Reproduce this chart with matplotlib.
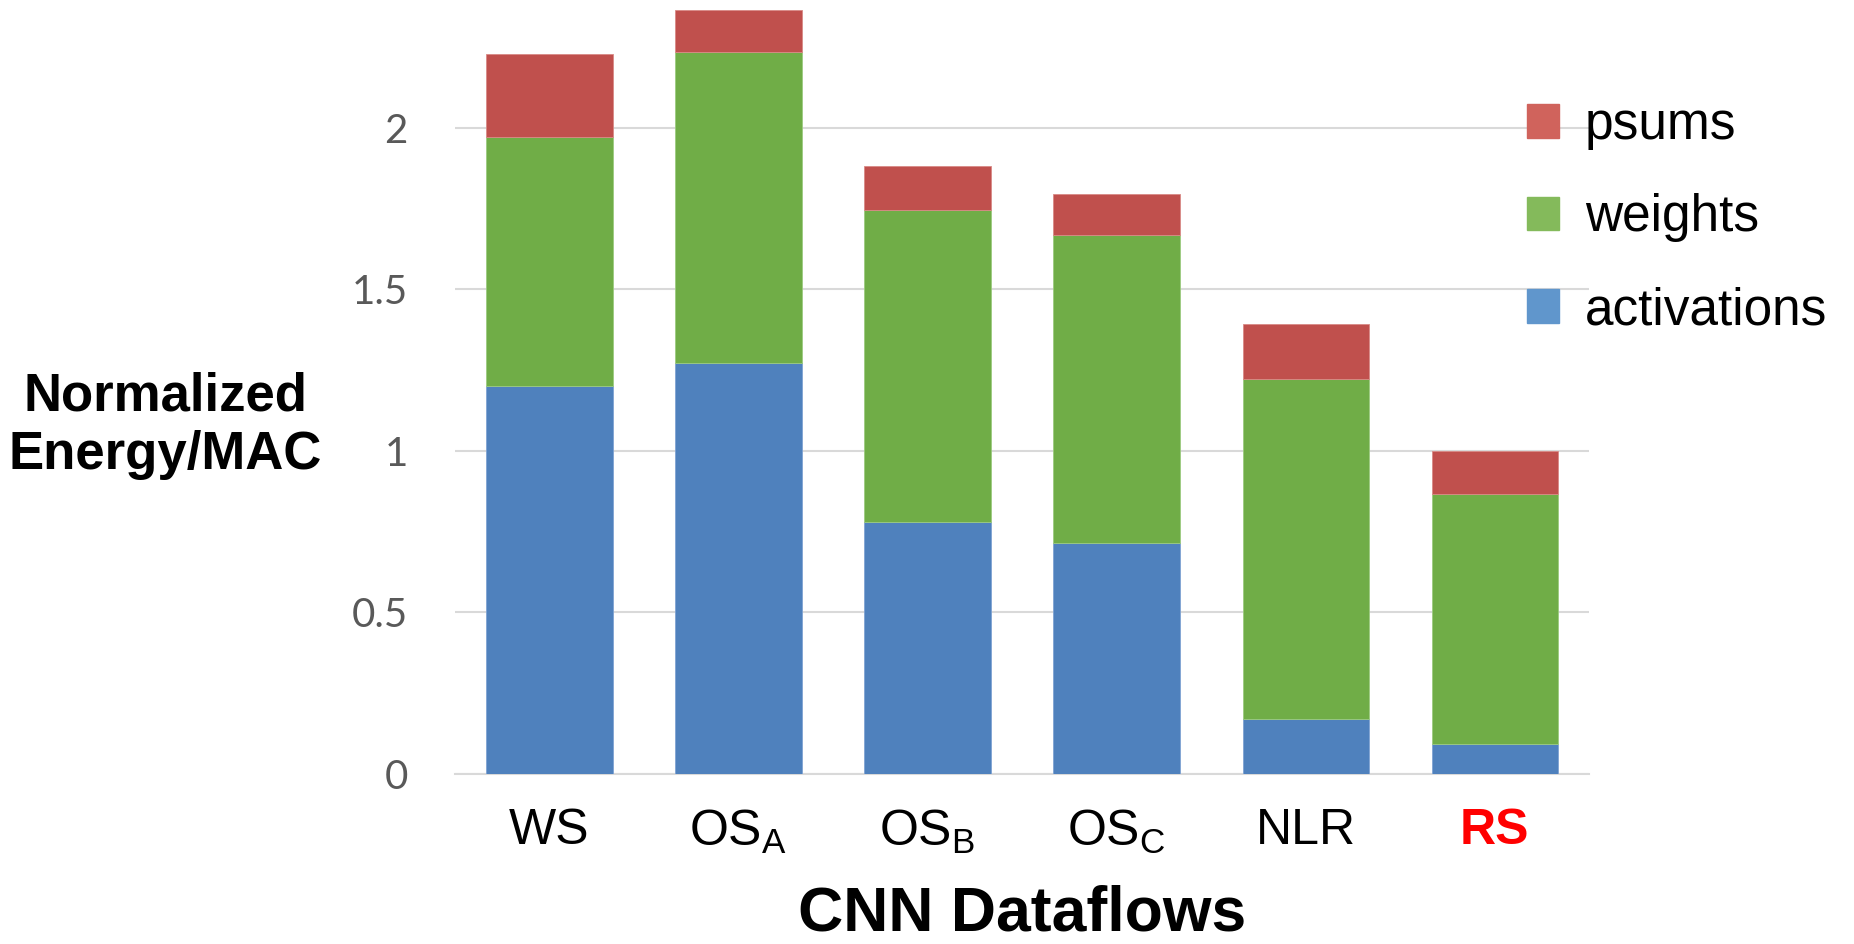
import numpy as np
import matplotlib
matplotlib.use("Agg")
import matplotlib.pyplot as plt
from matplotlib.patches import Patch

# data (normalized energy per MAC)
dataflows = ["WS", "OS$_{\\mathregular{A}}$", "OS$_{\\mathregular{B}}$",
             "OS$_{\\mathregular{C}}$", "NLR", "RS"]
activations = [1.20, 1.27, 0.78, 0.713, 0.169, 0.09]
weights = [0.772, 0.964, 0.966, 0.954, 1.052, 0.776]
psums = [0.256, 0.13, 0.135, 0.128, 0.17, 0.134]
yticks = [0, 0.5, 1, 1.5, 2]

plt.rcParams['font.family'] = ['Liberation Sans', 'DejaVu Sans']
plt.rcParams['mathtext.fontset'] = 'custom'
plt.rcParams['mathtext.rm'] = 'Liberation Sans'

c_act, c_w, c_ps = "#4F81BD", "#70AD47", "#C0504D"

fig = plt.figure(figsize=(18.54, 9.44), dpi=100)
ax = fig.add_axes([0.2454, 0.1806, 0.6117, 0.8175])

x = np.arange(len(dataflows))
acts = np.array(activations)
ws = np.array(weights)
ax.bar(x, acts, width=0.667, color=c_act, edgecolor="#7fa3d3", linewidth=0.6, zorder=3)
ax.bar(x, ws, width=0.667, bottom=acts, color=c_w, edgecolor="#9ccb80", linewidth=0.6, zorder=3)
ax.bar(x, psums, width=0.667, bottom=acts + ws, color=c_ps, edgecolor="#d98a86", linewidth=0.6, zorder=3)

ax.set_xlim(-0.5, len(dataflows) - 0.5)
ax.set_ylim(0, 2.39)
ax.set_yticks(yticks)
ax.set_yticklabels(["0", "0.5", "1", "1.5", "2"], family="Lato", fontsize=29, color="#595959")
ax.set_xticks(x)
ax.set_xticklabels(dataflows, fontsize=36)
ax.get_xticklabels()[-1].set_color("#FF0000")
ax.get_xticklabels()[-1].set_fontweight("bold")
ax.tick_params(axis="y", length=0, pad=34)
ax.tick_params(axis="x", length=0, pad=25)

ax.grid(axis="y", color="#d9d9d9", linewidth=1.5, zorder=0)
for s in ["top", "right", "left"]:
    ax.spines[s].set_visible(False)
ax.spines["bottom"].set_color("#d9d9d9")
ax.spines["bottom"].set_linewidth(1.5)

ax.set_xlabel("CNN Dataflows", fontsize=45, fontweight="bold", labelpad=20)
fig.text(0.089, 0.549, "Normalized\nEnergy/MAC", fontsize=38, fontweight="bold",
         ha="center", va="center", multialignment="center", linespacing=1.2)

handles = [Patch(color="#D0635C", label="psums"),
           Patch(color="#84BA5B", label="weights"),
           Patch(color="#6096CC", label="activations")]
fig.legend(handles=handles, loc="upper left", bbox_to_anchor=(0.8125, 0.915),
           frameon=False, fontsize=37, handlelength=0.63, handleheight=0.63,
           handletextpad=0.5, labelspacing=0.85, borderaxespad=0)

fig.savefig("out.png", dpi=100)
